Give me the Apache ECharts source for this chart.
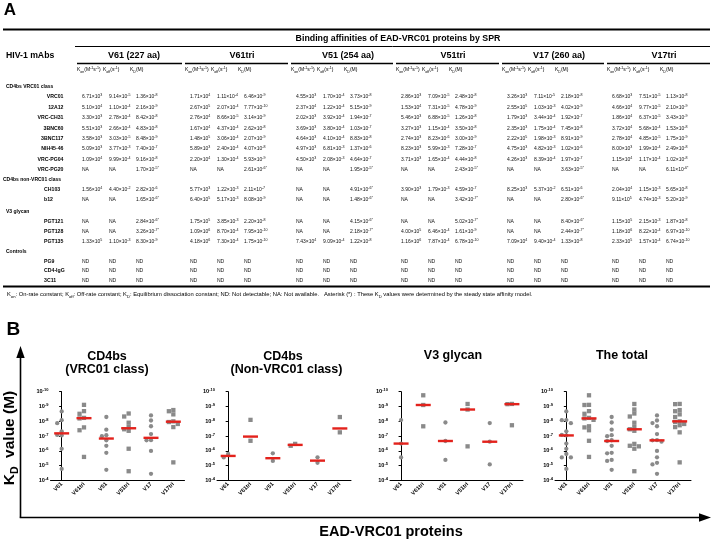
<!DOCTYPE html>
<html><head><meta charset="utf-8">
<script src="https://cdn.jsdelivr.net/npm/echarts@6/dist/echarts.min.js"></script>
<style>html,body{margin:0;padding:0;background:#fff}#c{width:713px;height:541px}</style>
</head><body><div id="c"></div>
<script>
// ---------------- DATA ----------------
const groupNames = ['V61 (227 aa)', 'V61tri', 'V51 (254 aa)', 'V51tri', 'V17 (260 aa)', 'V17tri'];
const proteins = ['V61', 'V61tri', 'V51', 'V51tri', 'V17', 'V17tri'];
const classNames = ['CD4bs VRC01 class', 'CD4bs non-VRC01 class', 'V3 glycan', 'Controls'];
const panelTitles = [['CD4bs', '(VRC01 class)'], ['CD4bs', '(Non-VRC01 class)'], ['V3 glycan'], ['The total']];
const yTickExponents = [-10, -9, -8, -7, -6, -5, -4];
// each row: mAb, then Kon, Koff, KD for V61, V61tri, V51, V51tri, V17, V17tri
const vrc01ClassRows = [
  ['VRC01',    '6.71e3','9.14e-5','1.36e-8', '1.71e4','1.11e-4','6.46e-9',  '4.55e3','1.70e-4','3.73e-8', '2.86e3','7.09e-5','2.48e-8', '3.26e3','7.11e-5','2.18e-8', '6.68e3','7.51e-5','1.13e-8'],
  ['12A12',    '5.10e4','1.10e-4','2.16e-9', '2.67e5','2.07e-4','7.77e-10', '2.37e4','1.22e-4','5.15e-9', '1.53e4','7.31e-5','4.78e-9', '2.55e5','1.03e-3','4.02e-9', '4.66e4','9.77e-5','2.10e-9'],
  ['VRC-CH31', '3.30e3','2.78e-4','8.42e-8', '2.76e4','8.66e-5','3.14e-9',  '2.02e3','3.92e-4','1.94e-7', '5.46e3','6.88e-5','1.26e-8', '1.79e3','3.44e-4','1.92e-7', '1.86e4','6.37e-5','3.43e-9'],
  ['3BNC60',   '5.51e3','2.66e-4','4.83e-8', '1.67e4','4.37e-4','2.62e-8',  '3.69e3','3.80e-4','1.03e-7', '3.27e3','1.15e-4','3.50e-8', '2.35e3','1.75e-4','7.45e-8', '3.72e4','5.68e-4','1.53e-8'],
  ['3BNC117',  '3.58e3','3.03e-5','8.48e-9', '1.48e5','3.06e-4','2.07e-9',  '4.64e3','4.10e-4','8.83e-8', '2.74e3','8.23e-6','3.00e-9', '2.22e5','1.98e-3','8.91e-9', '2.78e4','4.85e-5','1.75e-9'],
  ['NIH45-46', '5.09e3','3.77e-3','7.40e-7', '5.89e3','2.40e-4','4.07e-8',  '4.97e3','6.81e-3','1.37e-6', '8.23e3','5.99e-3','7.28e-7', '4.75e3','4.82e-3','1.02e-6', '8.00e3','1.99e-4','2.49e-8'],
  ['VRC-PG04', '1.09e4','9.99e-4','9.16e-8', '2.20e4','1.30e-4','5.93e-9',  '4.50e3','2.08e-3','4.64e-7', '3.71e3','1.65e-4','4.44e-8', '4.26e3','8.39e-4','1.97e-7', '1.15e4','1.17e-4','1.02e-8'],
  ['VRC-PG20', 'NA','NA','1.70e-5*', 'NA','NA','2.61e-6*', 'NA','NA','1.95e-5*', 'NA','NA','2.43e-5*', 'NA','NA','3.63e-5*', 'NA','NA','6.11e-6*']
];
const nonVrc01Rows = [
  ['CH103', '1.56e4','4.40e-2','2.82e-6', '5.77e3','1.22e-3','2.11e-7', 'NA','NA','4.91e-6*', '3.90e3','1.79e-3','4.59e-7', '8.25e3','5.37e-2','6.51e-6', '2.04e4','1.15e-3','5.65e-8'],
  ['b12',   'NA','NA','1.65e-6*', '6.40e5','5.17e-3','8.08e-9', 'NA','NA','1.48e-6*', 'NA','NA','3.42e-7*', 'NA','NA','2.80e-6*', '9.11e5','4.74e-3','5.20e-9']
];
const v3GlycanRows = [
  ['PGT121', 'NA','NA','2.84e-6*', '1.75e5','3.85e-3','2.20e-8',  'NA','NA','4.15e-6*', 'NA','NA','5.02e-7*', 'NA','NA','8.40e-6*', '1.15e5','2.15e-3','1.87e-8'],
  ['PGT128', 'NA','NA','3.26e-7*', '1.09e6','8.70e-4','7.95e-10', 'NA','NA','2.18e-7*', '4.00e5','6.46e-4','1.61e-9', 'NA','NA','2.44e-7*', '1.18e6','8.22e-4','6.97e-10'],
  ['PGT135', '1.33e5','1.10e-3','8.30e-9', '4.18e6','7.30e-4','1.75e-10', '7.43e4','9.09e-4','1.22e-8', '1.16e6','7.87e-4','6.78e-10', '7.09e4','9.40e-4','1.33e-8', '2.33e5','1.57e-4','6.74e-10']
];
const controlRows = [
  ['PG9',     'ND','ND','ND','ND','ND','ND','ND','ND','ND','ND','ND','ND','ND','ND','ND','ND','ND','ND'],
  ['CD4-IgG', 'ND','ND','ND','ND','ND','ND','ND','ND','ND','ND','ND','ND','ND','ND','ND','ND','ND','ND'],
  ['3C11',    'ND','ND','ND','ND','ND','ND','ND','ND','ND','ND','ND','ND','ND','ND','ND','ND','ND','ND']
];

// ---------------- LAYOUT ----------------
const FF = "'Liberation Sans', Arial, Helvetica, sans-serif";
const groupStart = [82, 190, 296, 401, 507, 612];
const colOffset = [0, 27, 54];
const subOffset = [-5, 21, 48];
const lineYs = [86.5, 97, 107.5, 118, 128.5, 138.8, 149, 159.2, 169.4, 179.8, 189.9, 199.8, 211.2, 222, 231.8, 241.5, 251.5, 261.4, 271, 280.5];
const sectionTitleX = [6, 3, 6, 6];
const grids = [
  {left: 50.5, top: 391.7, width: 134, height: 88.6},
  {left: 217, top: 391.7, width: 134, height: 88.6},
  {left: 390, top: 391.7, width: 133, height: 88.6},
  {left: 555, top: 391.7, width: 136, height: 88.6}
];
const titlePos = [[107, 357, 370], [283, 357, 370], [453, 356], [622, 356]];

function T(x, y, text, size, o) {
  o = o || {};
  const bold = !!o.bold, col = o.color || '#000';
  const ss = o.sup || size * 0.72;
  const w = bold ? 'bold' : 'normal';
  const al = o.align || 'left';
  return {type: 'text', x: x, y: y, rotation: o.rot || 0, silent: true, z: 10,
    style: {text: text, fontSize: size, fontFamily: FF, fontWeight: w, fill: col,
      align: al, textAlign: al, verticalAlign: 'middle', textVerticalAlign: 'middle',
      lineHeight: size * 1.45,
      rich: {
        s: {fontSize: ss, fontFamily: FF, fontWeight: w, fill: col, verticalAlign: 'top', lineHeight: ss},
        b: {fontSize: ss, fontFamily: FF, fontWeight: w, fill: col, verticalAlign: 'bottom', lineHeight: ss}
      }}};
}
function L(x1, y1, x2, y2, w) {
  return {type: 'line', silent: true, shape: {x1: x1, y1: y1, x2: x2, y2: y2}, style: {stroke: '#000', lineWidth: w}};
}
function fmt(s) {
  if (s === 'NA' || s === 'ND') return s;
  const star = s.endsWith('*');
  const t = star ? s.slice(0, -1) : s;
  const p = t.split('e');
  return p[0] + '×10{s|' + p[1] + (star ? '*' : '') + '}';
}

const G = [];
// ---- Part A : table ----
G.push(T(10, 10, 'A', 17, {bold: true, align: 'center'}));
G.push(L(3, 29.5, 710, 29.5, 2));
G.push(T(398, 38.5, 'Binding affinities of EAD-VRC01 proteins by SPR', 8.8, {bold: true, align: 'center'}));
G.push(L(75, 46.5, 710, 46.5, 1));
G.push(T(6, 56, 'HIV-1 mAbs', 8.7, {bold: true}));
groupNames.forEach((n, g) => {
  const s = groupStart[g];
  const e = g < 5 ? groupStart[g + 1] - 8 : 710;
  G.push(T(s + 52, 56, n, 9, {bold: true, align: 'center'}));
  G.push(L(s - 5, 63.5, e, 63.5, 1.3));
  const subs = ['K{b|on}(M{s|-1}s{s|-1})', 'K{b|off}(s{s|-1})', 'K{b|D}(M)'];
  subs.forEach((t, k) => G.push(T(s + subOffset[k], 70, t, 5, {sup: 3.6})));
});
const sections = [vrc01ClassRows, nonVrc01Rows, v3GlycanRows, controlRows];
let li = 0;
sections.forEach((rows, si) => {
  G.push(T(sectionTitleX[si], lineYs[li], classNames[si], 5, {bold: true}));
  li++;
  rows.forEach(r => {
    const y = lineYs[li++];
    if (si === 0) G.push(T(63.5, y, r[0], 5.2, {bold: true, align: 'right'}));
    else G.push(T(44, y, r[0], 5.2, {bold: true}));
    for (let g = 0; g < 6; g++) for (let k = 0; k < 3; k++) {
      G.push(T(groupStart[g] + colOffset[k], y, fmt(r[1 + g * 3 + k]), 5, {sup: 3.6, color: '#111'}));
    }
  });
});
G.push(L(3, 286.5, 710, 286.5, 2));
G.push(T(7, 294.5, 'K{b|on}: On-rate constant; K{b|off}: Off-rate constant; K{b|D}: Equilibrium dissociation constant; ND: Not detectable; NA: Not available.   Asterisk (*) : These K{b|D} values were determined by the steady state affinity model.', 5.8, {sup: 4.2}));

// ---- Part B : decorations ----
G.push(T(6.5, 330, 'B', 19, {bold: true}));
panelTitles.forEach((lines, i) => {
  const p = titlePos[i];
  lines.forEach((t, j) => G.push(T(p[0] + (i === 1 && j === 1 ? 3.5 : 0), p[1 + j], t, 12.5, {bold: true, align: 'center'})));
});
G.push(L(20.5, 356, 20.5, 517.5, 1.6));
G.push({type: 'polygon', silent: true, shape: {points: [[20.5, 346], [16.3, 358], [24.7, 358]]}, style: {fill: '#000'}});
G.push(L(19.7, 517.5, 701, 517.5, 1.6));
G.push({type: 'polygon', silent: true, shape: {points: [[711, 517.5], [699, 513.3], [699, 521.7]]}, style: {fill: '#000'}});
G.push(T(9.5, 438, 'K{b|D}  value (M)', 15.5, {bold: true, align: 'center', rot: Math.PI / 2, sup: 10.5}));
G.push(T(391, 531.5, 'EAD-VRC01 proteins', 14.5, {bold: true, align: 'center'}));

// ---------------- PLOTS ----------------
function kdColumn(rows, c) {
  return rows.map(r => r[1 + c * 3 + 2]).filter(s => s !== 'NA' && s !== 'ND').map(s => parseFloat(s.replace('*', '')));
}
function median(a) {
  const s = a.slice().sort((x, y) => x - y);
  const n = s.length;
  return n % 2 ? s[(n - 1) / 2] : (s[n / 2 - 1] + s[n / 2]) / 2;
}
function swarm(values) {
  const items = values.map(v => ({v: v, l: Math.log10(v)})).sort((a, b) => a.l - b.l);
  const placed = [];
  items.forEach(it => {
    for (let k = 0; k < 30; k++) {
      const off = k === 0 ? 0 : (k % 2 ? -Math.ceil(k / 2) : Math.ceil(k / 2));
      if (!placed.some(p => Math.abs(p.l - it.l) < 0.25 && Math.abs(p.off - off) < 0.99)) { it.off = off; break; }
    }
    placed.push(it);
  });
  return placed;
}
const panels = [[vrc01ClassRows], [nonVrc01Rows], [v3GlycanRows], [vrc01ClassRows, nonVrc01Rows, v3GlycanRows]];
const xAxes = [], yAxes = [], series = [];
panels.forEach((rowSets, gi) => {
  xAxes.push({gridIndex: gi, type: 'category', data: proteins, boundaryGap: true,
    axisLine: {onZero: false, lineStyle: {color: '#000', width: 1}},
    axisTick: {alignWithLabel: true, length: 2.5, lineStyle: {color: '#000'}},
    axisLabel: {rotate: 45, interval: 0, fontSize: 5.6, fontWeight: 'bold', fontFamily: FF, color: '#000', margin: 3}});
  xAxes.push({gridIndex: gi, type: 'value', min: -0.5, max: 5.5, show: false});
  yAxes.push({gridIndex: gi, type: 'log', logBase: 10, min: 1e-10, max: 1e-4, inverse: true,
    axisLine: {show: true, lineStyle: {color: '#000', width: 1}},
    axisTick: {show: true, length: 2.5, lineStyle: {color: '#000'}},
    splitLine: {show: false}, minorTick: {show: false},
    axisLabel: {fontSize: 5.6, fontWeight: 'bold', fontFamily: FF, color: '#000', margin: 2, lineHeight: 7,
      formatter: v => { const e = Math.round(Math.log10(v)); return yTickExponents.indexOf(e) >= 0 ? '10{s|' + e + '}' : ''; },
      rich: {s: {fontSize: 4, fontWeight: 'bold', fontFamily: FF, color: '#000', verticalAlign: 'top', lineHeight: 4}}}});
  const pts = [], meds = [];
  for (let c = 0; c < 6; c++) {
    let vals = [];
    rowSets.forEach(rs => { vals = vals.concat(kdColumn(rs, c)); });
    swarm(vals).forEach(p => pts.push([c + p.off * 0.2, p.v, c]));
    meds.push([c, median(vals)]);
  }
  series.push({type: 'scatter', xAxisIndex: gi * 2 + 1, yAxisIndex: gi, data: pts, silent: true, z: 2,
    symbol: (val) => (val[2] % 2 ? 'rect' : 'circle'), symbolSize: 4.3,
    itemStyle: {color: '#8a8a8a', opacity: 1}});
  series.push({type: 'scatter', xAxisIndex: gi * 2 + 1, yAxisIndex: gi, data: meds, silent: true, z: 3,
    symbol: 'rect', symbolSize: [15, 2.4], itemStyle: {color: '#e3221c', opacity: 1}});
});

const chart = echarts.init(document.getElementById('c'), null, {renderer: 'canvas', width: 713, height: 541});
chart.setOption({
  animation: false,
  backgroundColor: '#fff',
  grid: grids.map(g => Object.assign({containLabel: false}, g)),
  xAxis: xAxes,
  yAxis: yAxes,
  series: series,
  graphic: {elements: G}
});
</script></body></html>
